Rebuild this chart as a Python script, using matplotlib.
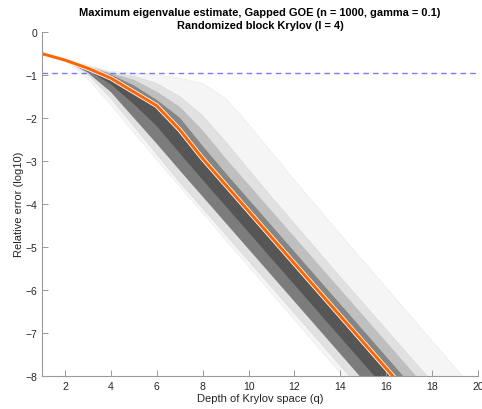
import numpy as np
import matplotlib
matplotlib.use('Agg')
import matplotlib.pyplot as plt
import matplotlib.patheffects as pe

plt.rcParams['font.family'] = ['Liberation Sans', 'DejaVu Sans']

# Profundidade do espaco de Krylov
q = [1, 2, 3, 4, 5, 6, 7, 8, 9, 10, 11, 12, 13, 14, 15, 16, 17, 18, 19, 20]

# Erro relativo (log10) - curvas de quantis dos ensaios
err_min = [-0.51, -0.66, -1.10, -1.70, -2.35, -2.98, -3.60, -4.22, -4.84, -5.46,
           -6.08, -6.70, -7.32, -7.94, -8.56, -9.18, -9.80, -10.4, -11.0, -11.6]
err_p05 = [-0.51, -0.66, -1.00, -1.55, -2.20, -2.85, -3.50, -4.11, -4.72, -5.33,
           -5.94, -6.55, -7.16, -7.77, -8.38, -8.99, -9.60, -10.2, -10.8, -11.4]
err_p10 = [-0.51, -0.66, -0.95, -1.40, -2.00, -2.60, -3.22, -3.83, -4.44, -5.05,
           -5.66, -6.27, -6.88, -7.49, -8.10, -8.71, -9.32, -9.93, -10.5, -11.1]
err_p25 = [-0.51, -0.66, -0.89, -1.22, -1.68, -2.19, -2.82, -3.44, -4.05, -4.66,
           -5.27, -5.88, -6.49, -7.10, -7.71, -8.32, -8.93, -9.54, -10.1, -10.7]
err_med = [-0.51, -0.66, -0.85, -1.08, -1.40, -1.72, -2.28, -2.95, -3.56, -4.17,
           -4.78, -5.39, -6.00, -6.61, -7.22, -7.83, -8.44, -9.05, -9.66, -10.3]
err_p75 = [-0.51, -0.65, -0.82, -1.00, -1.25, -1.59, -2.00, -2.66, -3.29, -3.90,
           -4.51, -5.12, -5.73, -6.34, -6.95, -7.56, -8.17, -8.78, -9.39, -10.0]
err_p90 = [-0.51, -0.65, -0.81, -0.97, -1.12, -1.40, -1.75, -2.30, -2.95, -3.56,
           -4.17, -4.78, -5.39, -6.00, -6.61, -7.22, -7.83, -8.44, -9.05, -9.66]
err_p95 = [-0.51, -0.65, -0.80, -0.95, -1.03, -1.20, -1.50, -1.95, -2.55, -3.20,
           -3.84, -4.46, -5.08, -5.70, -6.31, -6.92, -7.53, -8.14, -8.75, -9.36]
err_max = [-0.51, -0.65, -0.78, -0.92, -0.96, -1.00, -1.08, -1.20, -1.55, -2.15,
           -2.80, -3.45, -4.08, -4.71, -5.33, -5.95, -6.57, -7.19, -7.81, -8.43]

limiar = -0.97

fig = plt.figure(figsize=(4.82, 4.10), dpi=100)
ax = fig.add_axes([0.0871, 0.0812, 0.9046, 0.839])

# Faixa dos ensaios (camadas de cinza)
ax.fill_between(q, err_min, err_max, color='black', alpha=0.04, lw=0)
ax.fill_between(q, err_p05, err_p95, color='black', alpha=0.08, lw=0)
ax.fill_between(q, err_p10, err_p90, color='black', alpha=0.15, lw=0)
ax.fill_between(q, err_p25, err_p75, color='black', alpha=0.3, lw=0)
ax.fill_between(q, err_p10, err_med, color='black', alpha=0.35, lw=0)
for curva in [err_min, err_p05, err_p10, err_p25, err_p75, err_p90, err_p95, err_max]:
    ax.plot(q, curva, color='black', alpha=0.06, lw=0.5)

# Limiar
ax.axhline(limiar, color='#7a7aff', linestyle=(0, (4, 3)), lw=1.0)

# Mediana
ax.plot(q, err_med, color='#ff6600', lw=2.2,
        path_effects=[pe.Stroke(linewidth=3.4, foreground='white'), pe.Normal()])

ax.set_xlim(1, 20)
ax.set_ylim(-8, 0)
ax.set_xticks(range(2, 21, 2))
ax.set_yticks(range(-8, 1))

for s in ['top', 'right']:
    ax.spines[s].set_visible(False)
for s in ['left', 'bottom']:
    ax.spines[s].set_color('#9a9a9a')
    ax.spines[s].set_linewidth(0.8)
ax.tick_params(direction='in', length=4, width=0.7, color='#9a9a9a',
               labelcolor='#262626', labelsize=7.5)

ax.set_xlabel('Depth of Krylov space (q)', fontsize=8, color='#262626', labelpad=2)
ax.set_ylabel('Relative error (log10)', fontsize=8, color='#262626', labelpad=1)
ax.set_title('Maximum eigenvalue estimate, Gapped GOE (n = 1000, gamma = 0.1)\n'
             'Randomized block Krylov (l = 4)', fontsize=7.9, fontweight='bold',
             pad=3, linespacing=1.3)

fig.savefig('out.png', dpi=100)
